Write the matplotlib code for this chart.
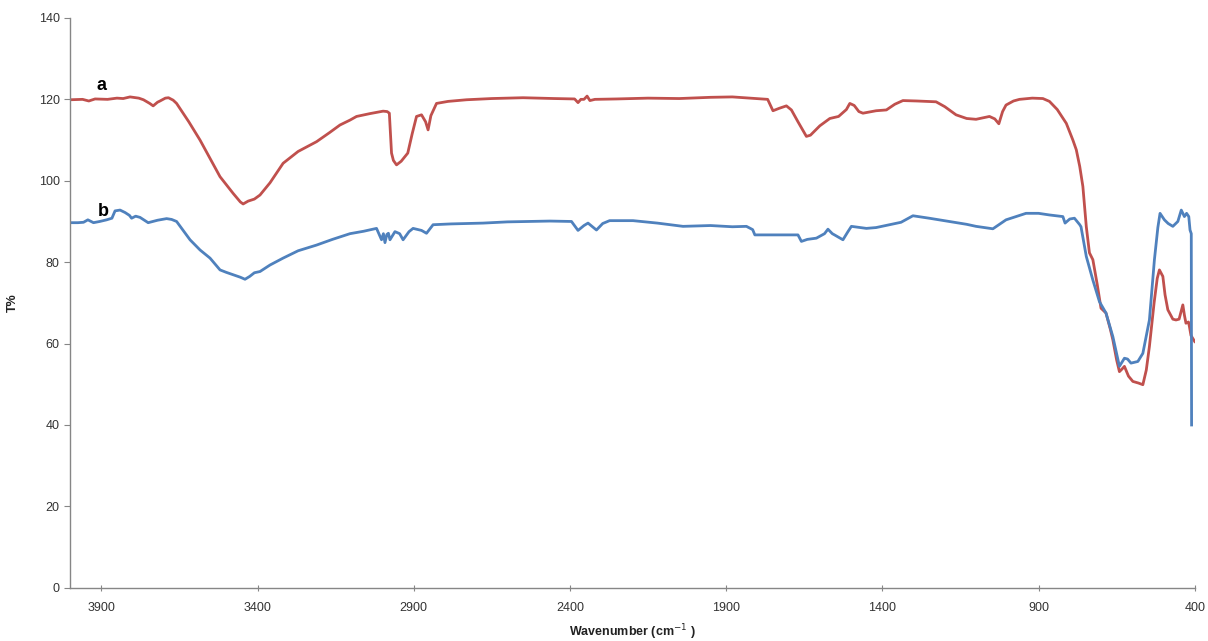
import matplotlib.pyplot as plt

# FTIR spectra
wnA = [4000, 3960, 3940, 3920, 3880, 3850, 3830, 3808, 3780, 3765, 3745, 3734, 3720, 3712, 3695,
       3685, 3670, 3659, 3620, 3584, 3550, 3520, 3478, 3455, 3446, 3430, 3410, 3392, 3360, 3318,
       3270, 3211, 3170, 3136, 3104, 3083, 3040, 2998, 2985, 2978, 2971, 2965, 2955, 2940, 2919,
       2905, 2891, 2875, 2862, 2854, 2845, 2827, 2790, 2731, 2650, 2550, 2450, 2385, 2374, 2365,
       2355, 2345, 2336, 2320, 2250, 2150, 2050, 1950, 1880, 1824, 1767, 1750, 1730, 1707, 1691,
       1670, 1643, 1630, 1600, 1568, 1540, 1515, 1504, 1490, 1475, 1462, 1420, 1387, 1360, 1334,
       1290, 1228, 1200, 1164, 1130, 1100, 1057, 1040, 1027, 1015, 1004, 980, 961, 920, 886,
       865, 840, 811, 790, 779, 768, 758, 747, 737, 726, 712, 700, 684, 670, 662,
       650, 641, 632, 625, 612, 598, 580, 566, 555, 545, 530, 520, 513, 502, 495,
       486, 470, 460, 450, 438, 433, 428, 420, 417, 412, 404, 400]
tA = [119.9, 120.0, 119.6, 120.1, 120.0, 120.3, 120.2, 120.6, 120.3, 119.9, 119.0, 118.4, 119.3, 119.6, 120.3,
      120.4, 119.8, 119.0, 114.5, 110.0, 105.2, 101.0, 96.9, 94.8, 94.3, 95.0, 95.5, 96.5, 99.5, 104.3,
      107.2, 109.6, 111.8, 113.7, 114.9, 115.8, 116.5, 117.1, 117.0, 116.6, 106.8, 105.0, 103.9, 104.8, 106.8,
      111.5, 115.8, 116.2, 114.5, 112.5, 116.0, 119.0, 119.5, 119.9, 120.2, 120.4, 120.2, 120.1, 119.2, 120.0,
      120.0, 120.8, 119.7, 120.0, 120.1, 120.3, 120.2, 120.5, 120.6, 120.3, 120.0, 117.2, 117.8, 118.4, 117.4,
      114.5, 110.9, 111.2, 113.5, 115.3, 115.8, 117.5, 119.0, 118.5, 117.0, 116.6, 117.2, 117.4, 118.8, 119.7,
      119.6, 119.4, 118.2, 116.2, 115.3, 115.1, 115.8, 115.2, 114.0, 117.0, 118.6, 119.6, 120.0, 120.3, 120.2,
      119.5, 117.5, 114.1, 110.0, 107.6, 103.5, 98.6, 88.7, 82.3, 80.6, 74.5, 68.7, 67.5, 63.5, 60.9,
      56.0, 53.1, 53.8, 54.4, 52.0, 50.7, 50.3, 49.9, 53.5, 59.3, 70.0, 76.0, 78.1, 76.5, 72.0,
      68.3, 66.0, 65.8, 66.0, 69.5, 67.0, 65.0, 65.3, 64.2, 62.0, 61.0, 60.5]

wnB = [4000, 3975, 3957, 3943, 3925, 3905, 3883, 3866, 3856, 3840, 3824, 3810, 3803, 3790, 3776,
       3760, 3750, 3720, 3691, 3675, 3659, 3640, 3616, 3584, 3552, 3520, 3500, 3478, 3455, 3440,
       3425, 3410, 3392, 3360, 3318, 3270, 3211, 3160, 3104, 3060, 3019, 3003, 2997, 2992, 2986,
       2981, 2976, 2960, 2945, 2934, 2915, 2902, 2875, 2859, 2838, 2780, 2678, 2600, 2464, 2395,
       2374, 2355, 2342, 2315, 2295, 2273, 2198, 2120, 2038, 1950, 1880, 1835, 1815, 1808, 1760,
       1720, 1670, 1659, 1640, 1611, 1585, 1574, 1560, 1553, 1526, 1510, 1499, 1451, 1420, 1377,
       1340, 1302, 1250, 1185, 1130, 1100, 1046, 1004, 940, 900, 865, 822, 815, 800, 785,
       768, 764, 747, 726, 705, 684, 662, 641, 625, 615, 604, 582, 566, 545, 529,
       518, 511, 497, 485, 470, 454, 443, 438, 433, 426, 419, 415, 411, 410]
tB = [89.7, 89.7, 89.8, 90.4, 89.7, 90.0, 90.4, 90.8, 92.6, 92.8, 92.2, 91.5, 90.8, 91.3, 91.0,
      90.2, 89.7, 90.3, 90.7, 90.5, 90.0, 88.0, 85.5, 83.0, 81.0, 78.1, 77.5, 76.9, 76.3, 75.8,
      76.5, 77.4, 77.7, 79.3, 81.0, 82.8, 84.2, 85.6, 87.0, 87.6, 88.3, 85.5, 87.0, 84.8, 86.8,
      87.1, 85.5, 87.5, 87.0, 85.5, 87.5, 88.3, 87.8, 87.1, 89.2, 89.4, 89.6, 89.9, 90.1, 90.0,
      87.8, 89.0, 89.6, 87.9, 89.5, 90.2, 90.2, 89.6, 88.8, 89.0, 88.7, 88.8, 88.0, 86.7, 86.7,
      86.7, 86.7, 85.1, 85.6, 85.9, 87.0, 88.1, 87.0, 86.7, 85.5, 87.5, 88.8, 88.3, 88.5, 89.2,
      89.8, 91.4, 90.8, 90.0, 89.3, 88.8, 88.2, 90.4, 92.0, 92.0, 91.6, 91.2, 89.6, 90.6, 90.8,
      89.2, 88.7, 81.4, 75.6, 70.3, 67.5, 61.7, 54.4, 56.4, 56.2, 55.2, 55.6, 57.6, 65.8, 80.6,
      88.5, 92.0, 90.4, 89.5, 88.8, 90.0, 92.8, 92.0, 91.2, 92.0, 91.2, 87.9, 87.0, 40.0]

xticks = [3900, 3400, 2900, 2400, 1900, 1400, 900, 400]
yticks = [0, 20, 40, 60, 80, 100, 120, 140]

plt.rcParams['font.family'] = ['Liberation Sans', 'DejaVu Sans']

fig = plt.figure(figsize=(12.08, 6.41), dpi=100)
ax = fig.add_axes([0.058, 0.083, 0.931, 0.889])

ax.plot(wnA, tA, color='#C0504D', lw=2)
ax.plot(wnB, tB, color='#4F81BD', lw=2)

ax.text(3900, 123.3, 'a', fontsize=13, fontweight='bold', ha='center', va='center')
ax.text(3893, 92.4, 'b', fontsize=13, fontweight='bold', ha='center', va='center')

ax.set_xlim(4000, 400)
ax.set_ylim(0, 140)
ax.set_xticks(xticks)
ax.set_yticks(yticks)

for s in ['top', 'right']:
    ax.spines[s].set_visible(False)
for s in ['left', 'bottom']:
    ax.spines[s].set_color('#868686')
    ax.spines[s].set_linewidth(1)

ax.tick_params(axis='both', colors='#868686', labelcolor='#333333', labelsize=9, length=4)
ax.tick_params(axis='x', direction='inout', pad=8)

ax.set_xlabel('Wavenumber (cm$^{-1}$ )', fontsize=9, fontweight='bold', color='#222222', labelpad=6)
ax.set_ylabel('T%', fontsize=9, fontweight='bold', color='#222222', labelpad=14)

fig.savefig('out.png', dpi=100)
